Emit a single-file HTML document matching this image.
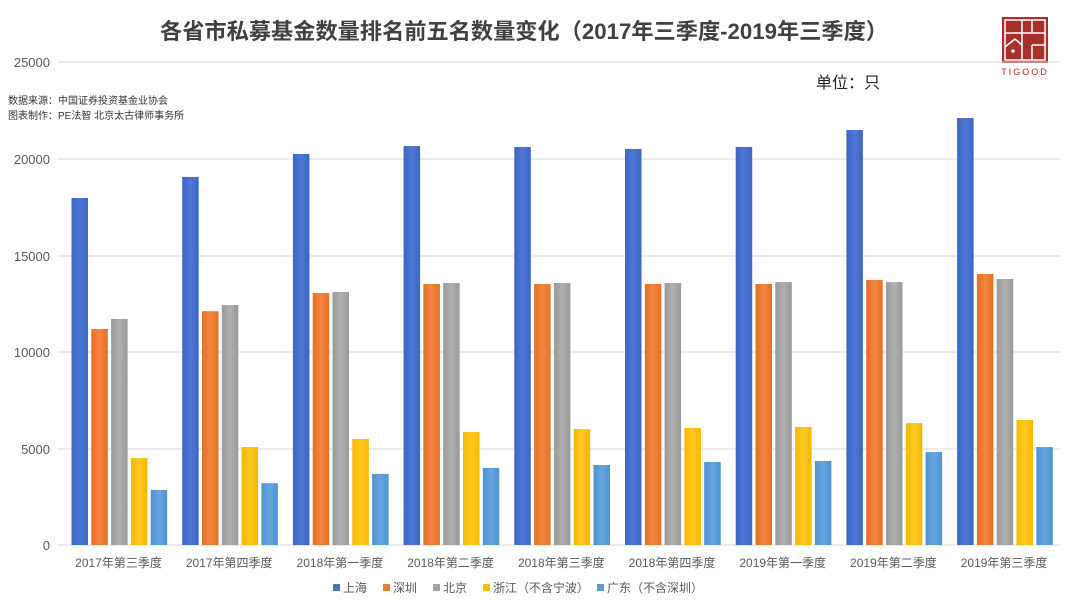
<!DOCTYPE html>
<html><head><meta charset="utf-8"><style>
body{margin:0;background:#fff;}
svg text{font-family:"Liberation Sans","Noto Sans CJK SC",sans-serif;}
</style></head><body>
<svg width="1080" height="608" viewBox="0 0 1080 608" xmlns="http://www.w3.org/2000/svg">
<defs>
<linearGradient id="gb" x1="0" x2="1"><stop offset="0" stop-color="#3d64c2"/><stop offset="0.5" stop-color="#4d78d6"/><stop offset="1" stop-color="#3d64c2"/></linearGradient>
<linearGradient id="go" x1="0" x2="1"><stop offset="0" stop-color="#e56f25"/><stop offset="0.5" stop-color="#f38640"/><stop offset="1" stop-color="#e56f25"/></linearGradient>
<linearGradient id="gg" x1="0" x2="1"><stop offset="0" stop-color="#999"/><stop offset="0.5" stop-color="#b0b0b0"/><stop offset="1" stop-color="#999"/></linearGradient>
<linearGradient id="gy" x1="0" x2="1"><stop offset="0" stop-color="#f5b800"/><stop offset="0.5" stop-color="#ffc824"/><stop offset="1" stop-color="#f5b800"/></linearGradient>
<linearGradient id="gl" x1="0" x2="1"><stop offset="0" stop-color="#4f92d2"/><stop offset="0.5" stop-color="#66a5e0"/><stop offset="1" stop-color="#4f92d2"/></linearGradient>
</defs>
<text x="524" y="39" font-size="22" font-weight="bold" fill="#404040" text-anchor="middle" textLength="728" lengthAdjust="spacingAndGlyphs">各省市私募基金数量排名前五名数量变化（2017年三季度-2019年三季度）</text>
<g transform="translate(1002,17)">
<rect x="0" y="0" width="46" height="46" fill="#a8302a"/>
<rect x="3" y="3" width="40" height="40" fill="none" stroke="#fff" stroke-width="1.5"/>
<path d="M3 16H20V3M20 16V28M20 16H43M30 3V16M30 28H43M3 30L13 22L20 28V43M30 28V43" stroke="#fff" stroke-width="1.5" fill="none"/>
<circle cx="11" cy="34" r="1.8" fill="#fff"/>
<text x="23" y="58" font-size="9" fill="#a8302a" text-anchor="middle" letter-spacing="2">TIGOOD</text>
</g>
<g stroke="#d9d9d9" stroke-width="1">
<line x1="58" y1="62" x2="1060" y2="62"/><line x1="58" y1="159" x2="1060" y2="159"/><line x1="58" y1="256" x2="1060" y2="256"/><line x1="58" y1="352" x2="1060" y2="352"/><line x1="58" y1="449" x2="1060" y2="449"/><line x1="58" y1="545" x2="1060" y2="545"/>
</g>
<g font-size="13" fill="#595959" text-anchor="end">
<text x="50" y="67">25000</text><text x="50" y="164">20000</text><text x="50" y="261">15000</text><text x="50" y="357">10000</text><text x="50" y="454">5000</text><text x="50" y="550">0</text>
</g>
<text x="8" y="104" font-size="10" fill="#333">数据来源：中国证券投资基金业协会</text>
<text x="8" y="119" font-size="10" fill="#333">图表制作：PE法智 北京太古律师事务所</text>
<text x="816" y="88" font-size="16" fill="#222">单位：只</text>
<g id="bars"></g>
<g font-size="12" fill="#595959" text-anchor="middle" id="xl"></g>
<g font-size="12" fill="#595959">
<rect x="333" y="584" width="7" height="7" fill="#4472c4"/><text x="343" y="592">上海</text>
<rect x="383" y="584" width="7" height="7" fill="#ed7d31"/><text x="393" y="592">深圳</text>
<rect x="433" y="584" width="7" height="7" fill="#a5a5a5"/><text x="443" y="592">北京</text>
<rect x="483" y="584" width="7" height="7" fill="#ffc000"/><text x="493" y="592">浙江（不含宁波）</text>
<rect x="597" y="584" width="7" height="7" fill="#5b9bd5"/><text x="607" y="592">广东（不含深圳）</text>
</g>
</svg>
<script>
var d=[[17960,11180,11700,4500,2850],[19050,12100,12420,5070,3200],[20240,13040,13100,5490,3680],[20650,13510,13560,5850,3990],[20600,13510,13560,6000,4140],[20500,13510,13560,6060,4300],[20600,13510,13610,6110,4350],[21480,13720,13610,6310,4810],[22100,14030,13770,6470,5070]];
var labs=["2017年第三季度","2017年第四季度","2018年第一季度","2018年第二季度","2018年第三季度","2018年第四季度","2019年第一季度","2019年第二季度","2019年第三季度"];
var f=["gb","go","gg","gy","gl"],ns="http://www.w3.org/2000/svg",g=document.getElementById("bars"),xl=document.getElementById("xl");
for(var i=0;i<9;i++){var x0=71.5+i*110.7;for(var j=0;j<5;j++){var h=d[i][j]*0.01932;var r=document.createElementNS(ns,"rect");r.setAttribute("x",x0+j*19.8);r.setAttribute("y",545-h);r.setAttribute("width",16.5);r.setAttribute("height",h);r.setAttribute("fill","url(#"+f[j]+")");g.appendChild(r);}
var t=document.createElementNS(ns,"text");t.setAttribute("x",x0+47);t.setAttribute("y",567);t.textContent=labs[i];xl.appendChild(t);}
</script>
</body></html>
